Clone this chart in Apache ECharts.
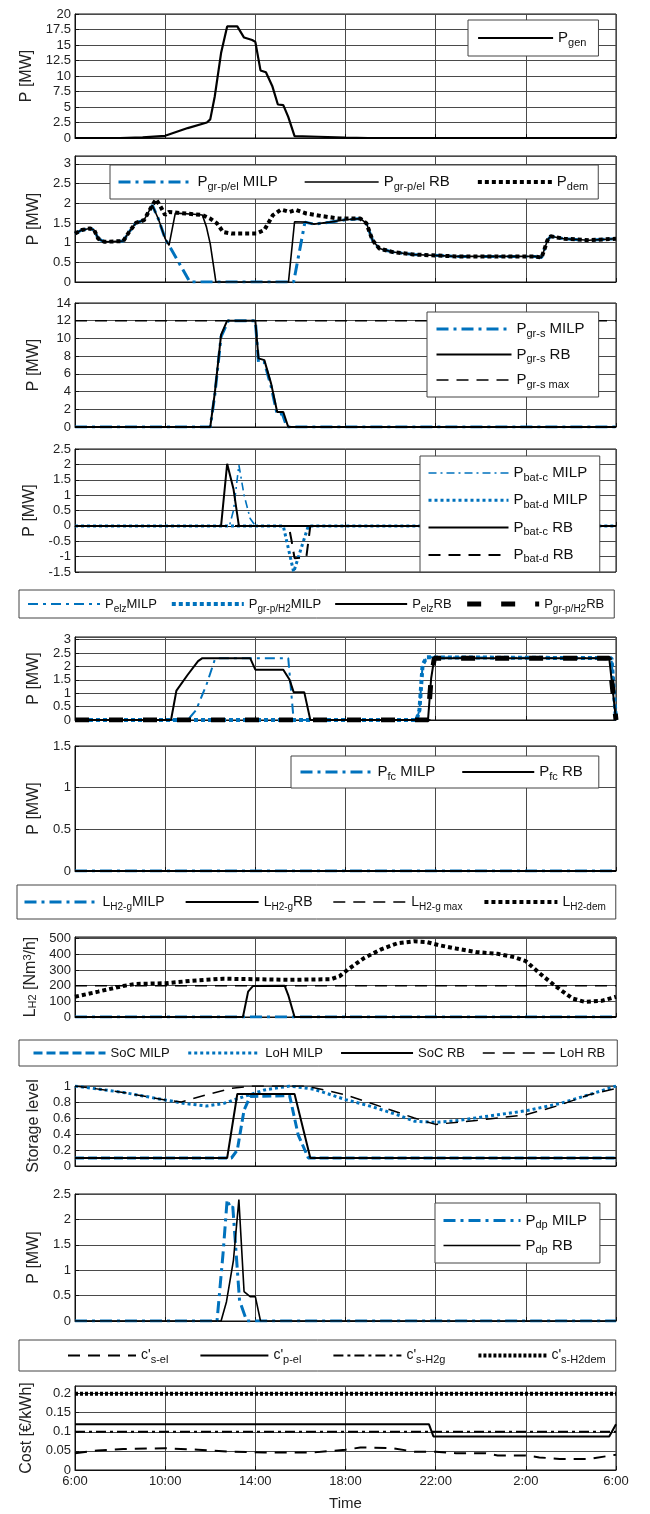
<!DOCTYPE html>
<html>
<head>
<meta charset="utf-8">
<script src="https://cdn.jsdelivr.net/npm/echarts@6/dist/echarts.min.js"></script>
<style>html,body{margin:0;padding:0;background:#fff}#chart{width:650px;height:1514px}</style>
</head>
<body>
<div id="chart"></div>
<script>
// time in hours after 6:00
const timeTicks = ['6:00', '10:00', '14:00', '18:00', '22:00', '2:00', '6:00'];

const genP = [[0,0],[2,0],[3,0.1],[4,0.35],[5,1.6],[5.85,2.5],[6.0,3.0],[6.2,6.7],[6.48,13.7],[6.75,18],[7.2,18],[7.5,16.2],[7.86,15.8],[8.0,15.5],[8.23,10.9],[8.47,10.6],[8.75,8.4],[9.0,5.4],[9.24,5.3],[9.46,3.4],[9.74,0.3],[10.8,0.2],[12,0.05],[13,0],[24,0]];

const demP = [[0,1.23],[0.3,1.32],[0.66,1.36],[0.85,1.32],[1.03,1.1],[1.3,1.02],[2.14,1.04],[2.4,1.27],[2.7,1.5],[3.06,1.57],[3.43,1.95],[3.6,2.1],[3.8,1.91],[4.0,1.7],[4.17,1.78],[4.54,1.76],[5.28,1.72],[5.65,1.7],[6.0,1.61],[6.3,1.49],[6.57,1.27],[6.94,1.23],[8.04,1.23],[8.4,1.32],[8.78,1.7],[9.15,1.84],[9.52,1.78],[9.8,1.83],[10.26,1.74],[11,1.67],[11.73,1.61],[12.66,1.61],[12.93,1.49],[13.2,1.06],[13.5,0.85],[14.1,0.76],[15,0.7],[16.9,0.65],[18.7,0.65],[20.4,0.65],[20.7,0.62],[20.96,1.06],[21.1,1.16],[21.7,1.1],[22.8,1.06],[24,1.1]];
const grElRb = [[0,1.23],[0.3,1.32],[0.66,1.36],[0.85,1.32],[1.03,1.1],[1.3,1.02],[2.14,1.04],[2.4,1.27],[2.7,1.5],[3.06,1.57],[3.43,1.95],[3.7,1.6],[4.0,1.1],[4.17,0.93],[4.45,1.75],[5.28,1.72],[5.65,1.7],[5.83,1.4],[6.0,0.97],[6.2,0.2],[6.25,0],[9.47,0],[9.74,1.53],[10.26,1.52],[10.6,1.47],[11.3,1.52],[12.0,1.58],[12.66,1.61],[12.93,1.49],[13.2,1.06],[13.5,0.85],[14.1,0.76],[15,0.7],[16.9,0.65],[18.7,0.65],[20.4,0.65],[20.7,0.62],[20.96,1.06],[21.1,1.16],[21.7,1.1],[22.8,1.06],[24,1.1]];
const grElMilp = [[0,1.23],[0.3,1.32],[0.66,1.36],[0.85,1.32],[1.03,1.1],[1.3,1.02],[2.14,1.04],[2.4,1.27],[2.7,1.5],[3.06,1.57],[3.43,1.95],[3.7,1.6],[4.0,1.1],[4.17,0.93],[5.1,0],[9.7,0],[10.2,1.52],[10.6,1.47],[11.3,1.52],[12.0,1.58],[12.66,1.61],[12.93,1.49],[13.2,1.06],[13.5,0.85],[14.1,0.76],[15,0.7],[16.9,0.65],[18.7,0.65],[20.4,0.65],[20.7,0.62],[20.96,1.06],[21.1,1.16],[21.7,1.1],[22.8,1.06],[24,1.1]];

const grsRb = [[0,0],[6.0,0],[6.2,3.8],[6.48,10.4],[6.75,12],[8.0,12],[8.14,7.75],[8.4,7.55],[8.7,4.9],[8.97,1.7],[9.24,1.7],[9.46,0],[24,0]];
const grsMilp = [[0,0],[6.0,0],[6.2,3.6],[6.48,10.2],[6.8,12],[8.0,12],[8.14,7.3],[8.4,7.3],[8.7,4.6],[8.97,1.4],[9.2,1.5],[9.4,0],[24,0]];
const grsMax = [[0,12],[24,12]];

const batCRb = [[0,0],[6.48,0],[6.75,2.02],[7.03,1.2],[7.27,0],[24,0]];
const batCMilp = [[0,0],[6.85,0],[7.03,0.5],[7.27,1.98],[7.5,1.0],[7.77,0.24],[8.0,0],[24,0]];
const batDMilp = [[0,0],[9.24,0],[9.7,-1.5],[10.35,0],[24,0]];
const batDRb = [[0,0],[9.48,0],[9.6,-0.45],[9.74,-1.05],[10.26,-1.03],[10.44,0],[24,0]];

const elzRb = [[0,0],[4.26,0],[4.5,1.1],[5.0,1.69],[5.46,2.2],[5.65,2.31],[7.77,2.31],[8.0,1.88],[9.24,1.88],[9.52,1.5],[9.7,1.04],[10.17,1.04],[10.44,0],[15.66,0],[15.8,1.56],[15.94,2.31],[23.7,2.31],[24,0]];
const elzMilp = [[0,0],[5.0,0],[5.37,0.37],[5.83,1.31],[6.2,2.25],[6.3,2.31],[9.46,2.31],[9.7,0],[15.15,0],[15.28,0.37],[15.42,2.06],[15.6,2.34],[23.8,2.31],[24,0]];
const grH2Milp = [[0,0],[15.15,0],[15.28,0.37],[15.42,2.06],[15.6,2.34],[23.8,2.31],[24,0]];
const grH2Rb = [[0,0],[15.66,0],[15.8,1.56],[15.94,2.31],[23.7,2.31],[24,0]];

const fcMilp = [[0,0],[24,0]];
const fcRb = [[0,0],[24,0]];

const h2gMilp = [[0,0],[24,0]];
const h2gRb = [[0,0],[7.45,0],[7.68,162],[7.9,198],[9.3,200],[9.46,140],[9.74,0],[24,0]];
const h2gMax = [[0,200],[24,200]];
const h2Dem = [[0,129],[1.03,162],[2.14,198],[2.7,211],[4,215],[5.1,230],[6.57,244],[8.04,241],[9.52,237],[11.36,241],[11.73,259],[12.1,302],[12.84,377],[13.58,431],[14.3,470],[15.05,483],[15.6,478],[16.16,457],[16.9,437],[17.8,414],[18.75,403],[19.5,381],[20,356],[20.6,280],[21.3,198],[22.07,118],[22.6,97],[23.36,103],[24,129]];

const socMilp = [[0,0.1],[6.94,0.1],[7.2,0.2],[7.5,0.7],[7.77,0.87],[9.52,0.88],[9.9,0.39],[10.35,0.1],[24,0.1]];
const lohMilp = [[0,1.0],[2.14,0.92],[4,0.825],[4.9,0.78],[5.83,0.75],[6.57,0.78],[7.3,0.85],[8.4,0.95],[9.52,1.0],[10.6,0.96],[12,0.83],[13.2,0.74],[14.3,0.64],[15.05,0.56],[16,0.545],[16.9,0.565],[18.75,0.64],[20,0.69],[21.5,0.78],[22.8,0.89],[24,1.0]];
const socRb = [[0,0.1],[6.75,0.1],[7.2,0.9],[9.74,0.9],[10.44,0.1],[24,0.1]];
const lohRb = [[0,1.0],[2.14,0.92],[4,0.825],[4.72,0.8],[5.83,0.89],[6.94,0.97],[7.86,1.0],[10.26,1.0],[12,0.89],[13.6,0.74],[15.05,0.6],[16,0.52],[17.8,0.57],[20,0.64],[21.5,0.76],[22.8,0.89],[24,0.97]];

const dpMilp = [[0,0],[6.3,0],[6.57,1.34],[6.75,2.39],[6.9,2.22],[7.0,2.25],[7.3,0.4],[7.62,0],[24,0]];
const dpRb = [[0,0],[6.48,0],[6.72,0.38],[7.03,1.2],[7.27,2.39],[7.5,0.58],[7.77,0.48],[8.0,0.48],[8.23,0],[24,0]];

const cSel = [[0,0.044],[1,0.051],[2.14,0.055],[4,0.057],[5.46,0.053],[6.94,0.048],[8.4,0.046],[10.6,0.046],[12,0.053],[12.66,0.059],[14.1,0.057],[15.05,0.048],[16,0.048],[16.9,0.044],[18.2,0.044],[18.75,0.038],[20,0.038],[20.6,0.033],[21.5,0.029],[22.8,0.029],[24,0.04]];
const cPel = [[0,0.12],[15.7,0.12],[15.9,0.088],[23.7,0.088],[24,0.12]];
const cSH2g = [[0,0.1],[24,0.1]];
const cSH2dem = [[0,0.2],[24,0.2]];

const FONT = '"Liberation Sans", Arial, Helvetica, sans-serif';
const BLUE = '#0072bd';
const BLACK = '#000';

// legend labels with subscripts
const LABELS = {
  gen: 'P{s|gen}',
  grMILP: 'P{s|gr-p/el} MILP', grRB: 'P{s|gr-p/el} RB', dem: 'P{s|dem}',
  gsMILP: 'P{s|gr-s} MILP', gsRB: 'P{s|gr-s} RB', gsMax: 'P{s|gr-s max}',
  bcMILP: 'P{s|bat-c} MILP', bdMILP: 'P{s|bat-d} MILP', bcRB: 'P{s|bat-c} RB', bdRB: 'P{s|bat-d} RB',
  elzMILP: 'P{s|elz}MILP', h2MILP: 'P{s|gr-p/H2}MILP', elzRB: 'P{s|elz}RB', h2RB: 'P{s|gr-p/H2}RB',
  fcMILP: 'P{s|fc} MILP', fcRB: 'P{s|fc} RB',
  lgMILP: 'L{s|H2-g}MILP', lgRB: 'L{s|H2-g}RB', lgMax: 'L{s|H2-g max}', lDem: 'L{s|H2-dem}',
  socMILP: 'SoC MILP', lohMILP: 'LoH MILP', socRB: 'SoC RB', lohRB: 'LoH RB',
  dpMILP: 'P{s|dp} MILP', dpRB: 'P{s|dp} RB',
  cSel: "c'{s|s-el}", cPel: "c'{s|p-el}", cSH2g: "c'{s|s-H2g}", cSH2dem: "c'{s|s-H2dem}"
};

// top, height, ymin, ymax, interval, hide max label
const panels = [
  [14, 124, 0, 20, 2.5, false],
  [156, 126, 0, 3.2, 0.5, true],
  [303, 124, 0, 14, 2, false],
  [449, 123, -1.5, 2.5, 0.5, false],
  [637, 83, 0, 3.1, 0.5, true],
  [746, 125, 0, 1.5, 0.5, false],
  [937, 80, 0, 510, 100, true],
  [1086, 80, 0, 1, 0.2, false],
  [1194, 127, 0, 2.5, 0.5, false],
  [1386, 84, 0, 0.22, 0.05, true]
];
const yNames = ['P [MW]', 'P [MW]', 'P [MW]', 'P [MW]', 'P [MW]', 'P [MW]',
  '{m|L}{s|H2}{m| [Nm}{p|3}{m|/h]}', 'Storage level', 'P [MW]', 'Cost [€/kWh]'];

const chart = echarts.init(document.getElementById('chart'));

const grids = [], xAxes = [], yAxes = [];
panels.forEach((p, i) => {
  grids.push({ left: 75, right: 34, top: p[0], height: p[1], show: true, borderColor: '#111', borderWidth: 1, outerBoundsMode: 'none' });
  const last = i === panels.length - 1;
  xAxes.push({
    type: 'value', gridIndex: i, min: 0, max: 24, interval: 4,
    axisLine: { show: true, lineStyle: { color: '#111' } },
    axisTick: { show: true, inside: true, length: 4, lineStyle: { color: '#111' } },
    splitLine: { show: true, lineStyle: { color: '#4a4a4a', width: 1 } },
    axisLabel: { show: last, fontFamily: FONT, fontSize: 13, color: '#222', margin: 5,
      formatter: v => timeTicks[Math.round(v / 4)] },
    name: last ? 'Time' : '', nameLocation: 'middle', nameGap: 26,
    nameTextStyle: { fontFamily: FONT, fontSize: 15, color: '#222' }
  });
  yAxes.push({
    type: 'value', gridIndex: i, min: p[2], max: p[3], interval: p[4],
    axisLine: { show: true, lineStyle: { color: '#111' } },
    axisTick: { show: true, inside: true, length: 4, lineStyle: { color: '#111' } },
    splitLine: { show: true, lineStyle: { color: '#4a4a4a', width: 1 } },
    axisLabel: { fontFamily: FONT, fontSize: 13, color: '#222', margin: 4, showMaxLabel: !p[5], showMinLabel: true },
    name: yNames[i], nameLocation: 'middle', nameGap: i === 6 ? 31 : 33,
    nameTextStyle: { fontFamily: FONT, fontSize: 16, color: '#222',
      rich: { m: { fontFamily: FONT, fontSize: 16, color: '#222' },
              s: { fontFamily: FONT, fontSize: 11, color: '#222', verticalAlign: 'bottom', lineHeight: 10 },
              p: { fontFamily: FONT, fontSize: 11, color: '#222', verticalAlign: 'top', lineHeight: 10 } } }
  });
});

const series = [];
function line(name, gi, data, color, width, dash) {
  series.push({
    name, type: 'line', xAxisIndex: gi, yAxisIndex: gi, data,
    symbol: 'none', showSymbol: false, animation: false,
    lineStyle: { color, width, type: dash || 'solid' }, itemStyle: { color }
  });
}
const DASHDOT = [12, 5, 3, 5];
const DASH = [12, 8];
const DOT = [3, 3];

line('gen', 0, genP, BLACK, 2.2);
line('grMILP', 1, grElMilp, BLUE, 3, DASHDOT);
line('grRB', 1, grElRb, BLACK, 1.6);
line('dem', 1, demP, BLACK, 4, [4, 3]);
line('gsMILP', 2, grsMilp, BLUE, 3, DASHDOT);
line('gsRB', 2, grsRb, BLACK, 2);
line('gsMax', 2, grsMax, BLACK, 1.5, DASH);
line('bcMILP', 3, batCMilp, BLUE, 1.6, [8, 4, 2, 4]);
line('bdMILP', 3, batDMilp, BLUE, 3, DOT);
line('bcRB', 3, batCRb, BLACK, 2);
line('bdRB', 3, batDRb, BLACK, 2, DASH);
line('elzMILP', 4, elzMilp, BLUE, 2, [10, 5, 3, 5]);
line('h2MILP', 4, grH2Milp, BLUE, 4, [4, 3]);
line('elzRB', 4, elzRb, BLACK, 2);
line('h2RB', 4, grH2Rb, BLACK, 5, [14, 20]);
line('fcMILP', 5, fcMilp, BLUE, 3, DASHDOT);
line('fcRB', 5, fcRb, BLACK, 2);
line('lgMILP', 6, h2gMilp, BLUE, 3, DASHDOT);
line('lgRB', 6, h2gRb, BLACK, 2);
line('lgMax', 6, h2gMax, BLACK, 1.5, DASH);
line('lDem', 6, h2Dem, BLACK, 4, [4, 3]);
line('socMILP', 7, socMilp, BLUE, 3, [9, 4]);
line('lohMILP', 7, lohMilp, BLUE, 3, DOT);
line('socRB', 7, socRb, BLACK, 2);
line('lohRB', 7, lohRb, BLACK, 1.5, DASH);
line('dpMILP', 8, dpMilp, BLUE, 3, DASHDOT);
line('dpRB', 8, dpRb, BLACK, 1.6);
line('cSel', 9, cSel, BLACK, 2, DASH);
line('cPel', 9, cPel, BLACK, 2);
line('cSH2g', 9, cSH2g, BLACK, 2, [10, 4, 3, 4]);
line('cSH2dem', 9, cSH2dem, BLACK, 4, [3, 2]);

// names, left, top, orient, font size, sub size, item gap, icon width, padding
function legend(names, left, top, orient, fs, sfs, gap, iw, pad) {
  return {
    data: names, left, top, orient, itemGap: gap, itemWidth: iw, itemHeight: 14,
    padding: pad, backgroundColor: '#fff', borderColor: '#444', borderWidth: 1,
    selectedMode: false,
    itemStyle: { opacity: 0 },
    lineStyle: { width: 'inherit', type: 'inherit', opacity: 1 },
    formatter: n => LABELS[n],
    textStyle: { fontFamily: FONT, fontSize: fs, color: '#111', lineHeight: 20,
      rich: { s: { fontFamily: FONT, fontSize: sfs, color: '#111', verticalAlign: 'bottom', lineHeight: 10 } } }
  };
}

const option = {
  animation: false,
  backgroundColor: '#fff',
  grid: grids, xAxis: xAxes, yAxis: yAxes, series,
  legend: [
    legend(['gen'], 468, 20, 'vertical', 15, 11, 5, 75, [8, 12, 8, 9]),
    legend(['grMILP', 'grRB', 'dem'], 110, 165, 'horizontal', 15, 11, 26, 74, [7, 10, 7, 7]),
    legend(['gsMILP', 'gsRB', 'gsMax'], 427, 312, 'vertical', 15, 11, 5.5, 75, [7, 14, 7, 8]),
    legend(['bcMILP', 'bdMILP', 'bcRB', 'bdRB'], 420, 456, 'vertical', 15, 11, 7.3, 80, [7, 12, 7, 7]),
    legend(['elzMILP', 'h2MILP', 'elzRB', 'h2RB'], 19, 590, 'horizontal', 13, 10, 13, 72, [4, 10, 4, 8]),
    legend(['fcMILP', 'fcRB'], 291, 756, 'horizontal', 15, 11, 26, 72, [6, 16, 6, 8]),
    legend(['lgMILP', 'lgRB', 'lgMax', 'lDem'], 17, 885, 'horizontal', 14, 10, 20, 73, [7, 10, 7, 6]),
    legend(['socMILP', 'lohMILP', 'socRB', 'lohRB'], 19, 1040, 'horizontal', 13, 10, 17, 72, [3, 12, 3, 13]),
    legend(['dpMILP', 'dpRB'], 435, 1203, 'vertical', 15, 11, 5, 77, [7.5, 13, 7.5, 7]),
    legend(['cSel', 'cPel', 'cSH2g', 'cSH2dem'], 19, 1340, 'horizontal', 14, 11, 31, 68, [5.5, 10, 5.5, 48])
  ]
};
chart.setOption(option);
</script>
</body>
</html>
